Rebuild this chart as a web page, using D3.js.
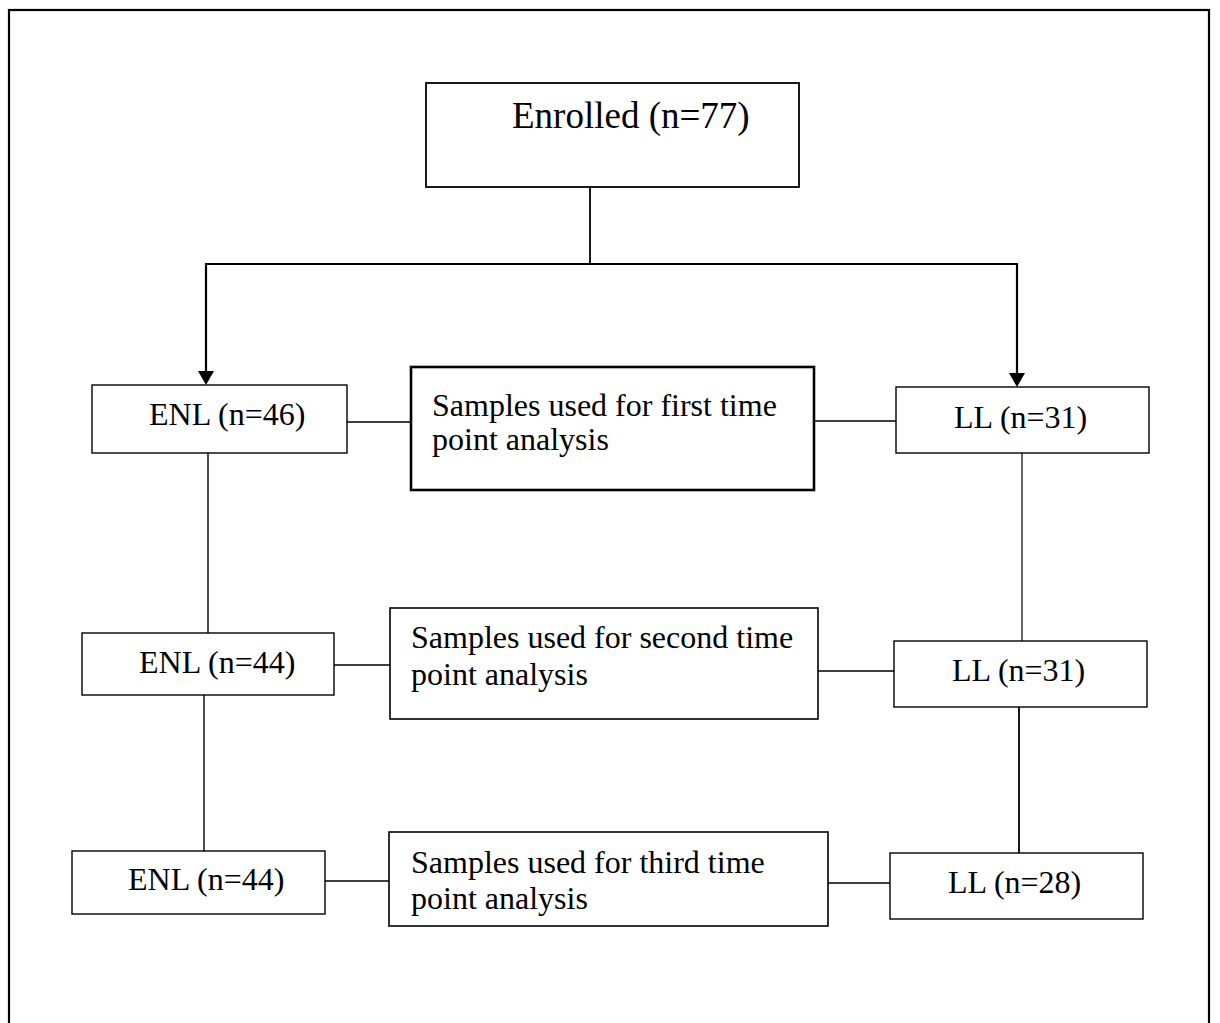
<!DOCTYPE html>
<html><head><meta charset="utf-8">
<script src="https://cdn.jsdelivr.net/npm/d3@7"></script>
<style>html,body{margin:0;padding:0;background:#fff;overflow:hidden}</style>
</head><body><svg id="c" width="1220" height="1023"></svg>
<script>
// ---- data ----
const enrolledN = 77;
const groups = ["ENL", "LL"];
const enlCounts = [46, 44, 44];
const llCounts = [31, 31, 28];
const timePoints = ["first", "second", "third"];

// ---- layout (geometry only) ----
const enrolledBox = {x:426, y:83, w:373, h:104, tx:512, ty:128};
const enlBoxes = [
  {x:92, y:385, w:255, h:68, tx:149, ty:425},
  {x:82, y:633, w:252, h:62, tx:139, ty:673},
  {x:72, y:851, w:253, h:63, tx:128, ty:890}
];
const llBoxes = [
  {x:896, y:387, w:253, h:66, tx:954, ty:428},
  {x:894, y:641, w:253, h:66, tx:952, ty:681},
  {x:890, y:853, w:253, h:66, tx:948, ty:893}
];
const sampleBoxes = [
  {x:411, y:367, w:403, h:123, tx:432, ty:[416,450], sw:2.6},
  {x:390, y:608, w:428, h:111, tx:411, ty:[648,685], sw:1.6},
  {x:389, y:832, w:439, h:94, tx:411, ty:[873,909], sw:1.6}
];
const enlCx = [208, 204];
const llCx = [1022, 1019];
const leftConnY = [422, 665, 881];
const rightConnY = [421, 671, 883];

const svg = d3.select("#c");
const font = "'Liberation Serif','Times New Roman',serif";

// outer frame
svg.append("rect").attr("x",9).attr("y",10).attr("width",1200).attr("height",1030)
  .attr("fill","none").attr("stroke","#000").attr("stroke-width",2.2);

svg.append("defs").append("marker").attr("id","arr")
  .attr("viewBox","0 0 16 14").attr("refX",8).attr("refY",14)
  .attr("markerWidth",16).attr("markerHeight",14).attr("markerUnits","userSpaceOnUse")
  .attr("orient","auto-start-reverse")
  .append("path").attr("d","M0,0 L16,0 L8,14 Z").attr("fill","#000");

function line(x1,y1,x2,y2,w,marker){
  const l = svg.append("line").attr("x1",x1).attr("y1",y1).attr("x2",x2).attr("y2",y2)
    .attr("stroke","#000").attr("stroke-width",w||1.6);
  if(marker) l.attr("marker-end","url(#arr)");
  return l;
}
function box(b,sw){
  svg.append("rect").attr("x",b.x).attr("y",b.y).attr("width",b.w).attr("height",b.h)
    .attr("fill","#fff").attr("stroke","#000").attr("stroke-width",sw||1.6);
}

// top connectors
line(590, enrolledBox.y+enrolledBox.h, 590, 264, 1.8);
line(205, 264, 1018, 264, 2);
line(206, 264, 206, 385-14, 2.2);
line(1017, 264, 1017, 387-14, 2.2);
svg.append("path").attr("d",`M${206-8},${385-14} L${206+8},${385-14} L206,385 Z`).attr("fill","#000");
svg.append("path").attr("d",`M${1017-8},${387-14} L${1017+8},${387-14} L1017,387 Z`).attr("fill","#000");

// vertical connectors
for(let i=0;i<2;i++){
  line(enlCx[i], enlBoxes[i].y+enlBoxes[i].h, enlCx[i], enlBoxes[i+1].y, 1.4);
  line(llCx[i], llBoxes[i].y+llBoxes[i].h, llCx[i], llBoxes[i+1].y, i===0?1.2:1.8);
}
// horizontal connectors
for(let i=0;i<3;i++){
  line(enlBoxes[i].x+enlBoxes[i].w, leftConnY[i], sampleBoxes[i].x, leftConnY[i], 1.6);
  line(sampleBoxes[i].x+sampleBoxes[i].w, rightConnY[i], llBoxes[i].x, rightConnY[i], 1.6);
}

// boxes
box(enrolledBox, 1.8);
svg.append("text").attr("x",enrolledBox.tx).attr("y",enrolledBox.ty)
  .attr("font-family",font).attr("font-size",37).text(`Enrolled (n=${enrolledN})`);

enlBoxes.forEach((b,i)=>{
  box(b,1.4);
  svg.append("text").attr("x",b.tx).attr("y",b.ty).attr("font-family",font).attr("font-size",32)
    .text(`${groups[0]} (n=${enlCounts[i]})`);
});
llBoxes.forEach((b,i)=>{
  box(b,1.4);
  svg.append("text").attr("x",b.tx).attr("y",b.ty).attr("font-family",font).attr("font-size",32)
    .text(`${groups[1]} (n=${llCounts[i]})`);
});
sampleBoxes.forEach((b,i)=>{
  box(b,b.sw);
  const lines = [`Samples used for ${timePoints[i]} time`, "point analysis"];
  lines.forEach((t,j)=>{
    svg.append("text").attr("x",b.tx).attr("y",b.ty[j]).attr("font-family",font).attr("font-size",32).text(t);
  });
});
</script></body></html>
